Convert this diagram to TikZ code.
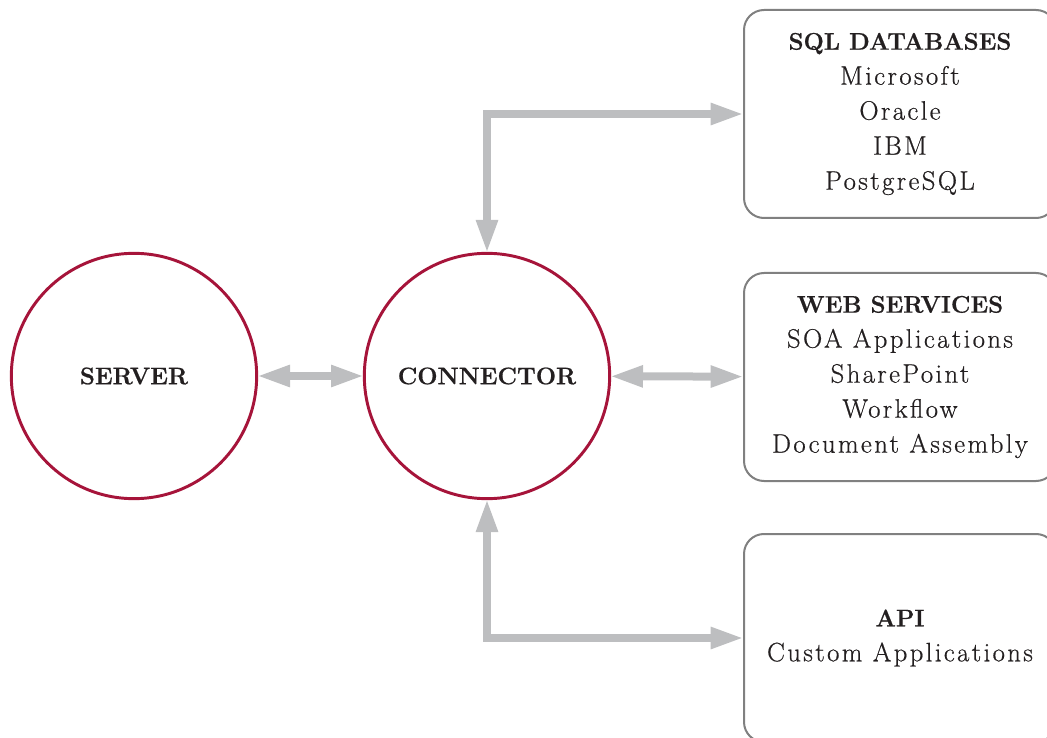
\documentclass[tikz,border=0pt]{standalone}
\usepackage{fontspec}
\setmainfont{Latin Modern Roman}[LetterSpace=9, FakeBold=0.6]
\usepackage{tikz}
\usetikzlibrary{arrows.meta, positioning}
\definecolor{hubred}{HTML}{A6143A}
\definecolor{linkgray}{HTML}{BDBEC0}
\definecolor{boxgray}{HTML}{808080}
\definecolor{inkblack}{HTML}{231F20}
\newcommand{\hdr}[1]{{\fontsize{18}{26.25}\selectfont\addfontfeature{LetterSpace=0}\bfseries #1}}

\begin{document}
\begin{tikzpicture}[
    x=0.75pt, y=-0.75pt,
    >={Triangle[length=25pt, width=15pt]},
    every node/.style={font=\fontsize{20}{26.25}\selectfont, text=inkblack},
    hub/.style={circle, draw=hubred, line width=2.2pt, fill=white,
                minimum size=184pt, inner sep=0pt, outer sep=0pt},
    target/.style={rectangle, rounded corners=15pt, draw=boxgray,
                   line width=1.5pt, fill=white, minimum width=234pt,
                   minimum height=156pt, align=center, outer sep=0pt},
    link/.style={<->, draw=linkgray, line width=6pt},
  ]
  \useasboundingbox (0,0) rectangle (1047,738);

  % hubs
  \node[hub] (server) at (134, 376) {\hdr{SERVER}};
  \node[hub] (conn) at (487, 376) {\hdr{CONNECTOR}};

  % data sources
  \node[target] (sql) at (900, 114)
    {\hdr{SQL DATABASES}\\Microsoft\\Oracle\\IBM\\PostgreSQL};
  \node[target] (web) at (900, 377)
    {\hdr{WEB SERVICES}\\SOA Applications\\SharePoint\\Workflow\\Document Assembly};
  \node[target] (api) at (900, 638)
    {\hdr{API}\\Custom Applications};

  % links
  \draw[link] (server) -- (conn);
  \draw[link] (conn) -- (web);
  \draw[link] (conn) |- (sql);
  \draw[link] (conn) |- (api);
\end{tikzpicture}
\end{document}
